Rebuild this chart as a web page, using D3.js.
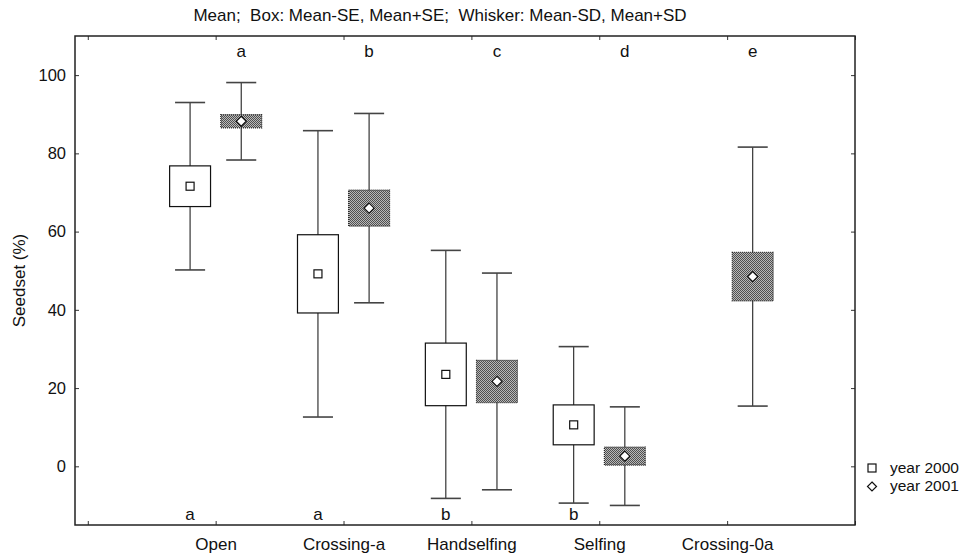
<!DOCTYPE html>
<html>
<head>
<meta charset="utf-8">
<script src="https://cdn.jsdelivr.net/npm/d3@7/dist/d3.min.js"></script>
<style>
  html, body { margin: 0; padding: 0; background: #fff; }
  svg { display: block; font-family: Arial, "Liberation Sans", sans-serif; }
</style>
</head>
<body>
<svg id="chart" width="979" height="554"></svg>
<script>
// Seed set by pollination treatment, two years
const categories = ["Open", "Crossing-a", "Handselfing", "Selfing", "Crossing-0a"];
const years = ["year 2000", "year 2001"];

const mean2000 = [71.6, 49.2, 23.5, 10.6, null];
const se2000   = [5.2, 10.0, 8.0, 5.1, null];
const sd2000   = [21.4, 36.6, 31.7, 20.0, null];

const mean2001 = [88.2, 66.0, 21.7, 2.6, 48.5];
const se2001   = [1.7, 4.6, 5.4, 2.3, 6.2];
const sd2001   = [9.9, 24.2, 27.7, 12.6, 33.1];

const lettersTop = ["a", "b", "c", "d", "e"];
const lettersBottom = ["a", "a", "b", "b", null];

const yTicks = [0, 20, 40, 60, 80, 100];
const title = "Mean;  Box: Mean-SE, Mean+SE;  Whisker: Mean-SD, Mean+SD";
const yLabel = "Seedset (%)";

const FONT = 17;

const svg = d3.select("#chart");
const plot = { left: 75, right: 855, top: 36, bottom: 525 };

const x = d3.scaleLinear().domain([-0.1, 6]).range([plot.left, plot.right]);
const y = d3.scaleLinear().domain([-15, 110]).range([plot.bottom, plot.top]);

const offset = 0.2;      // series offset from category centre
const boxW = 0.32;       // box width in category units
const capW = 0.235;      // whisker cap width

// dithered grey fill for the second series
const defs = svg.append("defs");
const pat = defs.append("pattern")
  .attr("id", "dither").attr("patternUnits", "userSpaceOnUse")
  .attr("width", 2).attr("height", 2);
pat.append("rect").attr("width", 2).attr("height", 2).attr("fill", "#b8b8b8");
pat.append("rect").attr("width", 1).attr("height", 1).attr("fill", "#505050");
pat.append("rect").attr("x", 1).attr("y", 1).attr("width", 1).attr("height", 1).attr("fill", "#505050");

// title
svg.append("text")
  .attr("x", 440).attr("y", 21)
  .attr("text-anchor", "middle")
  .attr("xml:space", "preserve").style("white-space", "pre")
  .attr("font-size", FONT).attr("fill", "#111")
  .text(title);

// axes
const idx = d3.range(0, 7);
const fmtCat = i => (i >= 1 && i <= categories.length ? categories[i - 1] : "");

const gL = svg.append("g").attr("transform", `translate(${plot.left},0)`)
  .call(d3.axisLeft(y).tickValues(yTicks).tickSizeInner(-4).tickSizeOuter(0).tickPadding(9));
const gR = svg.append("g").attr("transform", `translate(${plot.right},0)`)
  .call(d3.axisRight(y).tickValues(yTicks).tickSizeInner(-4).tickSizeOuter(0).tickFormat(""));
const gB = svg.append("g").attr("transform", `translate(0,${plot.bottom})`)
  .call(d3.axisBottom(x).tickValues(idx).tickSizeInner(-4).tickSizeOuter(0).tickPadding(13).tickFormat(fmtCat));
const gT = svg.append("g").attr("transform", `translate(0,${plot.top})`)
  .call(d3.axisTop(x).tickValues(idx).tickSizeInner(-4).tickSizeOuter(0).tickFormat(""));

[gL, gR, gB, gT].forEach(g => {
  g.select(".domain").remove();
  g.selectAll(".tick line").attr("stroke", "#333").attr("stroke-width", 1);
  g.selectAll(".tick text").attr("font-size", FONT).attr("fill", "#111")
    .attr("font-family", "Arial, 'Liberation Sans', sans-serif");
});
gL.selectAll(".tick text").attr("font-size", 16.5);

// frame
svg.append("rect")
  .attr("x", plot.left).attr("y", plot.top)
  .attr("width", plot.right - plot.left).attr("height", plot.bottom - plot.top)
  .attr("fill", "none").attr("stroke", "#222").attr("stroke-width", 1.5);

// y label
svg.append("text")
  .attr("transform", `translate(25,${(plot.top + plot.bottom) / 2}) rotate(-90)`)
  .attr("text-anchor", "middle").attr("font-size", FONT).attr("fill", "#111")
  .text(yLabel);

// series
const series = [
  { mean: mean2000, se: se2000, sd: sd2000, dx: -offset, fill: "#fff", stroke: "#111", dash: null, marker: "square" },
  { mean: mean2001, se: se2001, sd: sd2001, dx: offset, fill: "url(#dither)", stroke: "#222", dash: "1,1", marker: "diamond" }
];

series.forEach(s => {
  const g = svg.append("g");
  categories.forEach((c, i) => {
    const m = s.mean[i];
    if (m == null) return;
    const cx = x(i + 1 + s.dx);
    const half = (x(boxW) - x(0)) / 2;
    const capHalf = (x(capW) - x(0)) / 2;
    // whisker
    g.append("line").attr("x1", cx).attr("x2", cx)
      .attr("y1", y(m + s.sd[i])).attr("y2", y(m - s.sd[i]))
      .attr("stroke", "#222").attr("stroke-width", 1.1);
    [m + s.sd[i], m - s.sd[i]].forEach(v => {
      g.append("line").attr("x1", cx - capHalf).attr("x2", cx + capHalf)
        .attr("y1", y(v)).attr("y2", y(v))
        .attr("stroke", "#444").attr("stroke-width", 1.6);
    });
    // box
    g.append("rect")
      .attr("x", cx - half).attr("width", 2 * half)
      .attr("y", y(m + s.se[i])).attr("height", y(m - s.se[i]) - y(m + s.se[i]))
      .attr("fill", s.fill).attr("stroke", s.stroke).attr("stroke-width", 1.2)
      .attr("stroke-dasharray", s.dash);
    // mean marker
    if (s.marker === "square") {
      g.append("rect").attr("x", cx - 4).attr("y", y(m) - 4).attr("width", 8).attr("height", 8)
        .attr("fill", "#fff").attr("stroke", "#111").attr("stroke-width", 1.2);
    } else {
      g.append("path").attr("d", `M${cx},${y(m) - 5}L${cx + 5},${y(m)}L${cx},${y(m) + 5}L${cx - 5},${y(m)}Z`)
        .attr("fill", "#fff").attr("stroke", "#111").attr("stroke-width", 1.2);
    }
  });
});

// significance letters
categories.forEach((c, i) => {
  svg.append("text").attr("x", x(i + 1 + offset)).attr("y", 57)
    .attr("text-anchor", "middle").attr("font-size", FONT).attr("fill", "#111")
    .text(lettersTop[i]);
  if (lettersBottom[i]) {
    svg.append("text").attr("x", x(i + 1 - offset)).attr("y", 520)
      .attr("text-anchor", "middle").attr("font-size", FONT).attr("fill", "#111")
      .text(lettersBottom[i]);
  }
});

// legend
const lg = svg.append("g");
const lx = 872;
lg.append("rect").attr("x", lx - 4).attr("y", 464).attr("width", 8).attr("height", 8)
  .attr("fill", "#fff").attr("stroke", "#111").attr("stroke-width", 1.2);
lg.append("path").attr("d", `M${lx},${482}L${lx + 4.5},${486.5}L${lx},${491}L${lx - 4.5},${486.5}Z`)
  .attr("fill", "#fff").attr("stroke", "#111").attr("stroke-width", 1.2);
years.forEach((t, k) => {
  lg.append("text").attr("x", 890).attr("y", 473 + k * 18)
    .attr("font-size", 15.5).attr("fill", "#111").text(t);
});
</script>
</body>
</html>
